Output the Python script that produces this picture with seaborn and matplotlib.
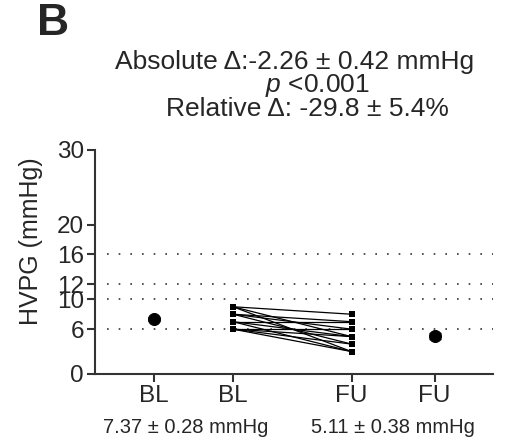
import numpy as np
import pandas as pd
import matplotlib
matplotlib.use("Agg")
import matplotlib.pyplot as plt
import seaborn as sns

# Datos
bl_values = [9, 9, 9, 8, 8, 8, 7, 7, 7, 6, 6, 6, 6]
fu_values = [8, 5, 3, 7, 6, 4, 7, 5, 3, 6, 5, 4, 3]
mean_labels = ["BL", "FU"]
mean_values = [7.37, 5.11]
sem_values = [0.28, 0.38]
tick_labels = ["BL", "BL", "FU", "FU"]
y_ticks = [0, 6, 10, 12, 16, 20, 30]
ref_lines = [6, 10, 12, 16]
summary_texts = ["7.37 ± 0.28 mmHg", "5.11 ± 0.38 mmHg"]

# posiciones en el eje x (como en GraphPad)
x_pos = [0, 1, 2.5, 3.55]

sns.set_style("ticks")
plt.rcParams["font.family"] = ["Liberation Sans", "DejaVu Sans"]
plt.rcParams["mathtext.fontset"] = "custom"
plt.rcParams["mathtext.rm"] = "Liberation Sans"
plt.rcParams["mathtext.it"] = "Liberation Sans:italic"

df_pares = pd.DataFrame({
    "id": list(range(len(bl_values))) * 2,
    "x": [x_pos[1]] * len(bl_values) + [x_pos[2]] * len(fu_values),
    "valor": bl_values + fu_values,
})
df_medias = pd.DataFrame({
    "grupo": mean_labels,
    "x": [x_pos[0], x_pos[3]],
    "media": mean_values,
    "sem": sem_values,
})

fig = plt.figure(figsize=(5.21, 4.41), dpi=100)
ax = fig.add_axes([0.1823, 0.152, 0.764, 0.508])

for y in ref_lines:
    ax.plot([-0.6, 4.3], [y, y], color="#333333", lw=1.2,
            linestyle=(0, (1, 6)), zorder=1)

sns.lineplot(data=df_pares, x="x", y="valor", units="id", estimator=None,
             color="black", lw=0.9, marker="s", markersize=5,
             markeredgewidth=0, ax=ax, zorder=3)

ax.errorbar(df_medias["x"], df_medias["media"], yerr=df_medias["sem"],
            fmt="none", ecolor="black", elinewidth=1.2, capsize=4, zorder=3)
sns.scatterplot(data=df_medias, x="x", y="media", color="black", s=75,
                marker="o", edgecolor="black", ax=ax, zorder=4)

ax.set_xlim(-0.747, 4.29)
ax.set_ylim(0, 30)
ax.set_yticks(y_ticks)
ax.set_xticks(x_pos)
ax.set_xticklabels(tick_labels)
ax.set_xlabel("")
ax.set_ylabel("HVPG (mmHg)", fontsize=18)
ax.yaxis.set_label_coords(-0.13, 0.594)
ax.tick_params(axis="both", labelsize=17.5, length=6, width=1.5,
               color="#333333", pad=2)

for lado in ["top", "right"]:
    ax.spines[lado].set_visible(False)
for lado in ["left", "bottom"]:
    ax.spines[lado].set_linewidth(1.5)
    ax.spines[lado].set_color("#333333")

fig.text(0.071, 0.946, "B", fontsize=32, fontweight="bold", va="center", ha="left")
fig.text(0.565, 0.859, "Absolute Δ:-2.26 ± 0.42 mmHg", fontsize=19, ha="center", va="center")
fig.text(0.610, 0.807, "$p$ <0.001", fontsize=19, ha="center", va="center")
fig.text(0.591, 0.753, "Relative Δ: -29.8 ± 5.4%", fontsize=19, ha="center", va="center")

fig.text(0.357, 0.0295, summary_texts[0], fontsize=14.5, ha="center", va="center")
fig.text(0.754, 0.0295, summary_texts[1], fontsize=14.5, ha="center", va="center")

fig.savefig("out.png", dpi=100)
plt.close(fig)
